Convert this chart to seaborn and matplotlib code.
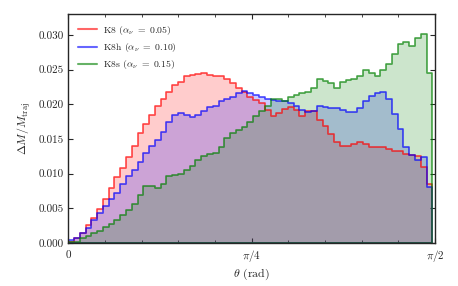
import numpy as np
import pandas as pd
import matplotlib
matplotlib.use("Agg")
import matplotlib.pyplot as plt
from matplotlib.lines import Line2D
from matplotlib.ticker import FixedLocator, MultipleLocator, FormatStrFormatter
import seaborn as sns

# 63 equal bins in theta (rad)
n_bins = 63
theta_max = 1.559
theta_edges = np.linspace(0, theta_max, n_bins + 1)
theta_centers = 0.5 * (theta_edges[:-1] + theta_edges[1:])

# K8 (alpha_nu = 0.05)
k8 = [0.0001, 0.0007, 0.0015, 0.0026, 0.0036, 0.0049, 0.0064, 0.0080, 0.0095, 0.0108,
      0.0124, 0.0140, 0.0158, 0.0172, 0.0184, 0.0197, 0.0208, 0.0218, 0.0228, 0.0232,
      0.0240, 0.0242, 0.0243, 0.0245, 0.0242, 0.0241, 0.0240, 0.0236, 0.0230, 0.0224,
      0.0217, 0.0211, 0.0206, 0.0202, 0.0192, 0.0183, 0.0188, 0.0193, 0.0196, 0.0192,
      0.0183, 0.0191, 0.0190, 0.0178, 0.0168, 0.0157, 0.0146, 0.0140, 0.0140, 0.0143,
      0.0146, 0.0143, 0.0139, 0.0139, 0.0139, 0.0136, 0.0133, 0.0133, 0.0129, 0.0127,
      0.0125, 0.0110, 0.0085]

# K8h (alpha_nu = 0.10)
k8h = [0.0004, 0.0008, 0.0015, 0.0022, 0.0033, 0.0044, 0.0053, 0.0063, 0.0072, 0.0085,
       0.0097, 0.0106, 0.0117, 0.0130, 0.0140, 0.0149, 0.0160, 0.0175, 0.0184, 0.0188,
       0.0184, 0.0182, 0.0184, 0.0190, 0.0196, 0.0197, 0.0204, 0.0207, 0.0211, 0.0216,
       0.0219, 0.0216, 0.0214, 0.0211, 0.0207, 0.0206, 0.0205, 0.0204, 0.0202, 0.0198,
       0.0192, 0.0189, 0.0190, 0.0198, 0.0196, 0.0195, 0.0194, 0.0192, 0.0189, 0.0189,
       0.0194, 0.0204, 0.0212, 0.0216, 0.0217, 0.0207, 0.0186, 0.0164, 0.0139, 0.0127,
       0.0119, 0.0124, 0.0081]

# K8s (alpha_nu = 0.15)
k8s = [0.0001, 0.0002, 0.0007, 0.0010, 0.0014, 0.0018, 0.0023, 0.0027, 0.0033, 0.0040,
       0.0047, 0.0056, 0.0069, 0.0082, 0.0082, 0.0080, 0.0085, 0.0096, 0.0098, 0.0100,
       0.0106, 0.0111, 0.0119, 0.0125, 0.0128, 0.0130, 0.0139, 0.0151, 0.0158, 0.0163,
       0.0167, 0.0175, 0.0183, 0.0191, 0.0197, 0.0207, 0.0208, 0.0205, 0.0211, 0.0213,
       0.0216, 0.0218, 0.0223, 0.0236, 0.0234, 0.0231, 0.0224, 0.0232, 0.0235, 0.0236,
       0.0240, 0.0250, 0.0245, 0.0241, 0.0249, 0.0258, 0.0273, 0.0287, 0.0290, 0.0284,
       0.0295, 0.0301, 0.0245]

series = [
    (k8, "red", r"K8 ($\alpha_\nu\ =\ 0.05$)"),
    (k8h, "blue", r"K8h ($\alpha_\nu\ =\ 0.10$)"),
    (k8s, "green", r"K8s ($\alpha_\nu\ =\ 0.15$)"),
]

sns.set_style("ticks")
plt.rcParams["font.family"] = "serif"
plt.rcParams["font.serif"] = ["cmr10", "DejaVu Serif"]
plt.rcParams["mathtext.fontset"] = "cm"
plt.rcParams["axes.formatter.use_mathtext"] = True

fig = plt.figure(figsize=(4.58, 2.86), dpi=100)
ax = fig.add_axes([0.149, 0.150, 0.801, 0.801])

frames = [pd.DataFrame({"theta": theta_centers, "dm": vals}) for vals, _, _ in series]

# shaded areas first
for df, (_, color, _) in zip(frames, series):
    sns.histplot(data=df, x="theta", weights="dm", bins=n_bins, binrange=(0, theta_max),
                 element="step", fill=True, color=color, alpha=0.2, linewidth=0,
                 edgecolor="none", ax=ax)

# outlines on top of every fill
handles = []
for df, (_, color, label) in zip(frames, series):
    sns.histplot(data=df, x="theta", weights="dm", bins=n_bins, binrange=(0, theta_max),
                 element="step", fill=True, color=color, facecolor="none", linewidth=1.2,
                 edgecolor=matplotlib.colors.to_rgba(color, 0.7), ax=ax)
    handles.append(Line2D([], [], color=color, alpha=0.6, linewidth=1.5, label=label))

ax.set_xlim(0, np.pi / 2)
ax.set_ylim(0, 0.033)
ax.xaxis.set_major_locator(FixedLocator([0, np.pi / 4, np.pi / 2]))
ax.set_xticklabels([r"$0$", r"$\pi/4$", r"$\pi/2$"])
ax.xaxis.set_minor_locator(MultipleLocator(np.pi / 20))
ax.yaxis.set_major_locator(MultipleLocator(0.005))
ax.yaxis.set_major_formatter(FormatStrFormatter("%.3f"))
ax.tick_params(which="both", direction="in", top=True, right=True, labelsize=8)
ax.tick_params(which="major", length=3.5, width=0.8)
ax.tick_params(which="minor", length=2, width=0.6)
for sp in ax.spines.values():
    sp.set_linewidth(1.0)

ax.set_xlabel(r"$\theta$ (rad)", fontsize=8.5, labelpad=2)
ax.set_ylabel(r"$\Delta M/M_{\rm traj}$", fontsize=8.5, labelpad=4)

ax.legend(handles=handles, loc="upper left", frameon=False, fontsize=7,
          handlelength=2.0, handletextpad=0.6, borderaxespad=0.6, labelspacing=0.45)

fig.savefig("out.png", dpi=100)
